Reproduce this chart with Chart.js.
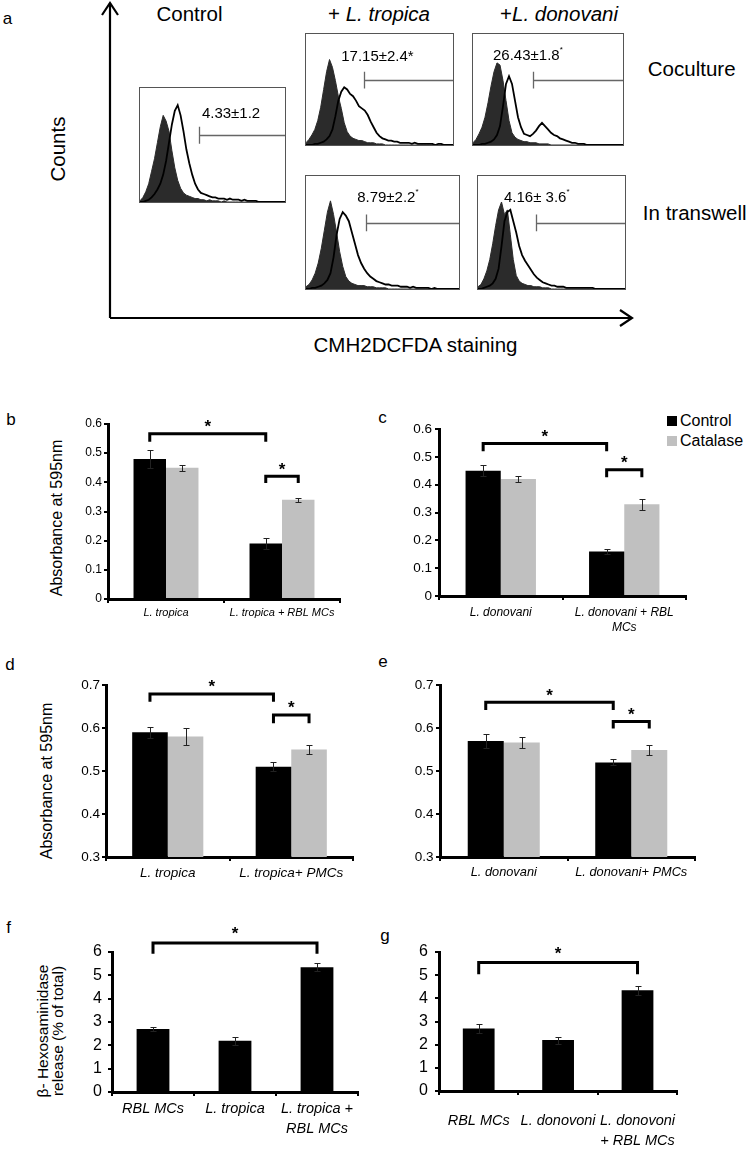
<!DOCTYPE html>
<html><head><meta charset="utf-8">
<script src="https://cdn.jsdelivr.net/npm/chart.js@4.4.1/dist/chart.umd.min.js"></script>
<style>
html,body{margin:0;padding:0;background:#fff;}
#page{position:relative;width:749px;height:1149px;overflow:hidden;font-family:"Liberation Sans",Arial,sans-serif;color:#000;}
.t{position:absolute;white-space:nowrap;line-height:1;transform:translate(-50%,-50%);}
.rot{transform:translate(-50%,-50%) rotate(-90deg);text-align:center;}
.lt{position:absolute;white-space:nowrap;line-height:1;transform:translate(0,-50%);font-size:16px;}
.sq{position:absolute;width:10px;height:10px;}
.box{position:absolute;box-sizing:border-box;border:1px solid #555;background:#fff;}
.box canvas{position:absolute;left:0;top:0;}
.bt{position:absolute;white-space:nowrap;line-height:1;transform:translate(-50%,-50%);font-size:15px;}
.bt sup{font-size:8px;vertical-align:top;position:relative;top:-1px;}
canvas.bar{position:absolute;}
svg{position:absolute;left:0;top:0;}
</style></head><body><div id="page">
<svg width="749" height="360">
 <g stroke="#000" stroke-width="2.2" fill="none">
  <line x1="110" y1="318" x2="110" y2="3"/>
  <polyline points="102,15 110,3 118,15"/>
  <line x1="110" y1="318" x2="632" y2="318"/>
  <polyline points="620,310 632,318 620,326"/>
 </g>
</svg>
<div class="t" style="left:7.5px;top:18.3px;font-size:17px">a</div>
<div class="t" style="left:189.5px;top:13.9px;font-size:20.5px">Control</div>
<div class="t" style="left:379px;top:13.9px;font-size:20.5px">+ <i>L. tropica</i></div>
<div class="t" style="left:559px;top:13.9px;font-size:20.5px">+<i>L. donovani</i></div>
<div class="t rot" style="left:57.5px;top:148.5px;font-size:20.5px">Counts</div>
<div class="t" style="left:691.7px;top:68.5px;font-size:20.5px">Coculture</div>
<div class="t" style="left:694.7px;top:213.3px;font-size:20.5px">In transwell</div>
<div class="t" style="left:415.5px;top:345px;font-size:20.5px">CMH2DCFDA staining</div>

<div class="box" id="boxCtl" style="left:139px;top:87px;width:147px;height:116px"><canvas id="hCtl"></canvas>
 <div class="bt" style="left:62.8%;top:21%">4.33±1.2</div></div>
<div class="box" id="boxTrCo" style="left:305px;top:33px;width:149px;height:113px"><canvas id="hTrCo"></canvas>
 <div class="bt" style="left:48.6%;top:19.3%">17.15±2.4*</div></div>
<div class="box" id="boxDoCo" style="left:472px;top:33px;width:152px;height:113px"><canvas id="hDoCo"></canvas>
 <div class="bt" style="left:36.6%;top:18%">26.43±1.8<sup>*</sup></div></div>
<div class="box" id="boxTrTw" style="left:305px;top:175px;width:155px;height:115px"><canvas id="hTrTw"></canvas>
 <div class="bt" style="left:53.5%;top:17.4%">8.79±2.2<sup>*</sup></div></div>
<div class="box" id="boxDoTw" style="left:477px;top:175px;width:149px;height:115px"><canvas id="hDoTw"></canvas>
 <div class="bt" style="left:40%;top:17.4%">4.16± 3.6<sup>*</sup></div></div>

<div class="t" style="left:11px;top:419.3px;font-size:17px">b</div>
<div class="t" style="left:382.5px;top:417.3px;font-size:17px">c</div>
<div class="t" style="left:10px;top:664.3px;font-size:17px">d</div>
<div class="t" style="left:383px;top:661.3px;font-size:17px">e</div>
<div class="t" style="left:8.5px;top:927.3px;font-size:17px">f</div>
<div class="t" style="left:385px;top:935.3px;font-size:17px">g</div>
<div class="t rot" style="left:57px;top:517.5px;font-size:16px">Absorbance at 595nm</div>
<div class="t rot" style="left:47px;top:780.5px;font-size:16px">Absorbance at 595nm</div>
<div class="t rot" style="left:50px;top:1031px;font-size:15.5px;line-height:15px">β- Hexosaminidase<br>release (% of total)</div>
<div class="sq" style="left:667px;top:416px;background:#000"></div>
<div class="lt" style="left:680px;top:420.7px">Control</div>
<div class="sq" style="left:667px;top:436px;background:#c0c0c0"></div>
<div class="lt" style="left:680px;top:440.7px">Catalase</div>

<canvas class="bar" id="cb"></canvas>
<canvas class="bar" id="cc"></canvas>
<canvas class="bar" id="cd"></canvas>
<canvas class="bar" id="ce"></canvas>
<canvas class="bar" id="cf"></canvas>
<canvas class="bar" id="cg"></canvas>
</div>
<script>
// ---------- DATA ----------
// Flow cytometry histograms (x = relative fluorescence channel 0..100, y = % of box height)
const histX = [0,2,4,6,8,10,12,14,16,18,20,22,24,26,28,30,32,34,36,38,40,42,44,46,48,50,52,54,56,58,60,62,64,66,68,70,72,74,76,78,80,82,84,86,88,90,92,94,96,98,100];
const ctlFilled  = [1,4,9,16,27,38,52,66,76,71,62,45,30,19,12,8,6,5,4,3,3,2,2,1,2,1,1,1,0,1,0,0,0,0,0,0,0,0,0,0,0,0,0,0,0,0,0,0,0,0,0];
const ctlOpen    = [0,0,1,2,4,7,11,16,24,36,52,68,80,85,76,62,46,34,24,16,11,8,7,6,5,4,4,3,3,3,2,3,2,2,2,1,2,1,1,1,1,0,0,0,0,0,0,0,0,0,0];
const trCoFilled = [2,5,9,14,22,34,50,66,77,70,58,44,33,20,12,8,6,5,4,4,3,2,2,2,1,1,1,0,0,0,0,0,0,0,0,0,0,0,0,0,0,0,0,0,0,0,0,0,0,0,0];
const trCoOpen   = [0,0,0,1,1,2,3,5,8,14,26,40,48,52,50,46,44,40,35,33,31,27,21,16,11,8,6,5,4,4,3,3,2,2,2,2,1,2,1,1,1,1,1,1,0,1,1,0,0,0,0];
const doCoFilled = [2,5,10,16,25,38,53,66,74,72,58,40,22,11,7,5,4,3,3,2,2,2,1,1,1,1,0,0,0,0,0,0,0,0,0,0,0,0,0,0,0,0,0,0,0,0,0,0,0,0,0];
const doCoOpen   = [0,0,0,1,1,2,3,5,9,17,35,55,62,55,40,25,16,10,9,8,10,13,17,20,17,14,11,9,8,6,5,4,3,2,2,1,1,1,0,0,0,0,0,0,0,0,0,0,0,0,0];
const trTwFilled = [2,4,8,14,23,36,52,68,78,66,50,33,20,11,7,5,4,3,3,3,2,2,2,1,1,1,1,0,0,0,0,0,0,0,0,0,0,0,0,0,0,0,0,0,0,0,0,0,0,0,0];
const trTwOpen   = [0,0,1,1,2,3,5,8,14,28,48,62,68,65,60,50,40,30,23,18,14,11,9,7,6,5,4,4,3,3,3,2,2,2,1,2,1,1,1,1,1,0,1,0,0,0,0,0,0,0,0];
const doTwFilled = [2,4,9,16,26,40,56,70,77,66,70,48,26,12,7,5,4,3,3,2,2,2,1,1,1,0,0,0,0,0,0,0,0,0,0,0,0,0,0,0,0,0,0,0,0,0,0,0,0,0,0];
const doTwOpen   = [0,0,1,2,3,5,9,18,38,60,68,70,60,50,38,30,25,21,17,13,10,8,6,5,4,3,3,2,2,2,1,1,1,1,1,1,1,1,1,1,0,0,0,0,0,0,0,0,0,0,0];
const gateStarts = [40.5, 39.7, 40, 39, 39.7];   // ctl, trCo, doCo, trTw, doTw
const gateLevel = 58.5;

// Panel b
const bLabels = ['L. tropica', 'L. tropica + RBL MCs'];
const bControl = [0.48, 0.19];   const bControlErr = [0.03, 0.02];
const bCatalase = [0.45, 0.34];  const bCatalaseErr = [0.01, 0.007];
// Panel c
const cLabels = ['L. donovani', ['L. donovani + RBL', 'MCs']];
const cControl = [0.45, 0.16];   const cControlErr = [0.02, 0.01];
const cCatalase = [0.42, 0.33];  const cCatalaseErr = [0.01, 0.02];
// Panel d
const dLabels = ['L. tropica', 'L. tropica+ PMCs'];
const dControl = [0.59, 0.51];   const dControlErr = [0.013, 0.01];
const dCatalase = [0.58, 0.55];  const dCatalaseErr = [0.02, 0.01];
// Panel e
const eLabels = ['L. donovani', 'L. donovani+ PMCs'];
const eControl = [0.57, 0.52];   const eControlErr = [0.016, 0.007];
const eCatalase = [0.566, 0.549]; const eCatalaseErr = [0.013, 0.012];
// Panel f
const fLabels = ['RBL MCs', 'L. tropica', ['L. tropica +', 'RBL MCs']];
const fValues = [2.7, 2.2, 5.35];  const fErr = [0.1, 0.17, 0.17];
// Panel g
const gLabels = ['RBL MCs', 'L. donovoni', ['L. donovoni', '+ RBL MCs']];
const gValues = [2.7, 2.2, 4.35];  const gErr = [0.2, 0.15, 0.2];

// Significance brackets: [dataset, index] ends, bracket level and leg end (data units)
const bBrackets = [{a:[0,0], b:[0,1], y:0.567, drop:0.539}, {a:[0,1], b:[1,1], y:0.421, drop:0.398}];
const cBrackets = [{a:[0,0], b:[0,1], y:0.548, drop:0.52},  {a:[0,1], b:[1,1], y:0.454, drop:0.427}];
const dBrackets = [{a:[0,0], b:[0,1], y:0.679, drop:0.661}, {a:[0,1], b:[1,1], y:0.630, drop:0.611}];
const eBrackets = [{a:[0,0], b:[0,1], y:0.66,  drop:0.642}, {a:[0,1], b:[1,1], y:0.615, drop:0.599}];
const fBrackets = [{a:[0,0], b:[0,2], y:6.39, drop:5.93}];
const gBrackets = [{a:[0,0], b:[0,2], y:5.55, drop:5.04}];

// ---------- RENDER ----------
const FONT = '"Liberation Sans", Arial, sans-serif';
const BLACK = '#000', GREY = '#c0c0c0';

const gatePlugin = {id:'gate', afterDatasetsDraw(chart, args, o){
  const xs = chart.scales.x, ys = chart.scales.y, ctx = chart.ctx;
  const x0 = Math.round(xs.getPixelForValue(o.start)) + 0.5;
  const x1 = xs.getPixelForValue(100);
  const y = Math.round(ys.getPixelForValue(o.level)) + 0.5;
  const t1 = ys.getPixelForValue(o.level + 7.5), t2 = ys.getPixelForValue(o.level - 7.5);
  ctx.save(); ctx.strokeStyle = '#666'; ctx.lineWidth = 1.3;
  ctx.beginPath(); ctx.moveTo(x0, y); ctx.lineTo(x1, y); ctx.moveTo(x0, t1); ctx.lineTo(x0, t2); ctx.stroke();
  ctx.restore();
}};

function histChart(id, filled, open, gateStart){
  const cv = document.getElementById(id);
  const box = cv.parentElement;
  cv.width = box.clientWidth; cv.height = box.clientHeight;
  return new Chart(cv, {
    type:'line',
    data:{datasets:[
      {data: histX.map((x,i)=>({x, y: open[i]})), borderColor:'#000', borderWidth:1.8, pointRadius:0, fill:false, tension:0},
      {data: histX.map((x,i)=>({x, y: filled[i]})), borderColor:'#2b2b2b', backgroundColor:'#2b2b2b', borderWidth:1, pointRadius:0, fill:'origin', tension:0}
    ]},
    options:{responsive:false, animation:false, devicePixelRatio:1,
      layout:{padding:0},
      plugins:{legend:{display:false}, tooltip:{enabled:false}, gate:{start:gateStart, level:gateLevel}},
      scales:{x:{type:'linear', min:0, max:100, display:false}, y:{min:0, max:100, display:false}}
    },
    plugins:[gatePlugin]
  });
}
histChart('hCtl', ctlFilled, ctlOpen, gateStarts[0]);
histChart('hTrCo', trCoFilled, trCoOpen, gateStarts[1]);
histChart('hDoCo', doCoFilled, doCoOpen, gateStarts[2]);
histChart('hTrTw', trTwFilled, trTwOpen, gateStarts[3]);
histChart('hDoTw', doTwFilled, doTwOpen, gateStarts[4]);

const errPlugin = {id:'errbars', afterDatasetsDraw(chart){
  const ctx = chart.ctx, ys = chart.scales.y;
  chart.data.datasets.forEach((ds, di)=>{
    if (!ds.err) return;
    chart.getDatasetMeta(di).data.forEach((bar, i)=>{
      const v = ds.data[i], e = ds.err[i];
      const x = Math.round(bar.x) + 0.5;
      const y1 = Math.round(ys.getPixelForValue(v + e)) + 0.5, y2 = Math.round(ys.getPixelForValue(v - e)) + 0.5;
      ctx.save(); ctx.strokeStyle = '#222'; ctx.lineWidth = 1;
      ctx.beginPath(); ctx.moveTo(x, y1); ctx.lineTo(x, y2);
      ctx.moveTo(x - 3, y1); ctx.lineTo(x + 3, y1); ctx.moveTo(x - 3, y2); ctx.lineTo(x + 3, y2);
      ctx.stroke(); ctx.restore();
    });
  });
}};
const bracketPlugin = {id:'brackets', afterDatasetsDraw(chart, args, o){
  const ctx = chart.ctx, ys = chart.scales.y;
  (o.list || []).forEach(b=>{
    const xa = chart.getDatasetMeta(b.a[0]).data[b.a[1]].x;
    const xb = chart.getDatasetMeta(b.b[0]).data[b.b[1]].x;
    const y = ys.getPixelForValue(b.y), yd = ys.getPixelForValue(b.drop);
    ctx.save(); ctx.strokeStyle = '#000'; ctx.lineWidth = 3; ctx.lineCap = 'butt'; ctx.lineJoin = 'miter';
    ctx.beginPath(); ctx.moveTo(xa, yd); ctx.lineTo(xa, y); ctx.lineTo(xb, y); ctx.lineTo(xb, yd); ctx.stroke();
    ctx.fillStyle = '#000'; ctx.font = 'bold 17px ' + FONT; ctx.textAlign = 'center'; ctx.textBaseline = 'alphabetic';
    ctx.fillText('*', (xa + xb) / 2, y - o.gap + 0.58 * 17);
    ctx.restore();
  });
}};

function barChart(id, r, o){
  const cv = document.getElementById(id);
  cv.width = r.w; cv.height = r.h; cv.style.left = r.x + 'px'; cv.style.top = r.y + 'px';
  return new Chart(cv, {
    type:'bar',
    data:{labels:o.labels, datasets:o.datasets.map(d=>({data:d.data, err:d.err, backgroundColor:d.color, borderWidth:0,
      categoryPercentage:o.cat, barPercentage:1}))},
    options:{responsive:false, animation:false, devicePixelRatio:1,
      layout:{padding:{left:0, top:r.padTop, right:r.padRight, bottom:0}},
      plugins:{legend:{display:false}, tooltip:{enabled:false}, brackets:{list:o.brackets, gap:o.gap}},
      scales:{
        x:{type:'category', offset:true, afterFit:s=>{s.height = r.xH;},
          border:{display:true, color:'#000', width:3},
          grid:{display:true, drawOnChartArea:false, drawTicks:true, tickLength:4, color:'#000', lineWidth:2, offset:true},
          ticks:{color:'#000', font:o.xFont, padding:o.xPad, maxRotation:0, minRotation:0, autoSkip:false}},
        y:{min:o.min, max:o.max, afterFit:s=>{s.width = r.yW;},
          border:{display:true, color:'#000', width:3},
          grid:{display:true, drawOnChartArea:false, drawTicks:true, tickLength:4, color:'#000', lineWidth:2},
          ticks:{stepSize:o.step, color:'#000', font:o.yFont, padding:o.yPad, autoSkip:false}}
      }
    },
    plugins:[errPlugin, bracketPlugin]
  });
}

barChart('cb', {x:66, y:400, w:280, h:240, yW:42, padTop:24, padRight:6, xH:41}, {
  labels:bLabels, cat:0.56, min:0, max:0.6, step:0.1, gap:11, brackets:bBrackets,
  datasets:[{data:bControl, err:bControlErr, color:BLACK}, {data:bCatalase, err:bCatalaseErr, color:GREY}],
  xFont:{family:FONT, size:11, style:'italic'}, xPad:3, yFont:{family:FONT, size:12}, yPad:2});
barChart('cc', {x:400, y:405, w:292, h:245, yW:39, padTop:24, padRight:6, xH:54}, {
  labels:cLabels, cat:0.57, min:0, max:0.6, step:0.1, gap:11, brackets:cBrackets,
  datasets:[{data:cControl, err:cControlErr, color:BLACK}, {data:cCatalase, err:cCatalaseErr, color:GREY}],
  xFont:{family:FONT, size:12, style:'italic', lineHeight:1.25}, xPad:5, yFont:{family:FONT, size:13.5}, yPad:3});
barChart('cd', {x:64, y:660, w:295, h:230, yW:42, padTop:25, padRight:6, xH:33}, {
  labels:dLabels, cat:0.576, min:0.3, max:0.7, step:0.1, gap:11.5, brackets:dBrackets,
  datasets:[{data:dControl, err:dControlErr, color:BLACK}, {data:dCatalase, err:dCatalaseErr, color:GREY}],
  xFont:{family:FONT, size:13.5, style:'italic'}, xPad:4, yFont:{family:FONT, size:13.5}, yPad:2});
barChart('ce', {x:400, y:660, w:301, h:230, yW:40, padTop:25, padRight:6, xH:33}, {
  labels:eLabels, cat:0.565, min:0.3, max:0.7, step:0.1, gap:11, brackets:eBrackets,
  datasets:[{data:eControl, err:eControlErr, color:BLACK}, {data:eCatalase, err:eCatalaseErr, color:GREY}],
  xFont:{family:FONT, size:12.8, style:'italic'}, xPad:4, yFont:{family:FONT, size:13.5}, yPad:2.5});
barChart('cf', {x:75, y:915, w:289, h:234, yW:37, padTop:37, padRight:6, xH:57}, {
  labels:fLabels, cat:0.4, min:0, max:6, step:1, gap:13.5, brackets:fBrackets,
  datasets:[{data:fValues, err:fErr, color:BLACK}],
  xFont:{family:FONT, size:14.5, style:'italic', lineHeight:20/14.5}, xPad:3, yFont:{family:FONT, size:16}, yPad:6});
barChart('cg', {x:405, y:915, w:287, h:234, yW:34, padTop:37, padRight:6, xH:58}, {
  labels:gLabels, cat:0.4, min:0, max:6, step:1, gap:13.5, brackets:gBrackets,
  datasets:[{data:gValues, err:gErr, color:BLACK}],
  xFont:{family:FONT, size:14.5, style:'italic', lineHeight:20/14.5}, xPad:16, yFont:{family:FONT, size:16}, yPad:7});
</script>
</body></html>
